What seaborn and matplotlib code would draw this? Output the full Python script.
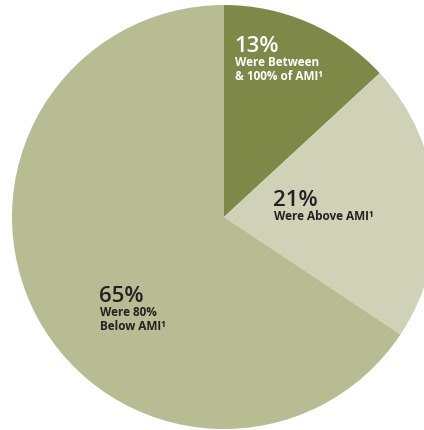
import matplotlib
matplotlib.use("Agg")
import matplotlib.pyplot as plt
import seaborn as sns

shares = [13, 21, 65]
pct_labels = ["13%", "21%", "65%"]
sub_labels = ["Were Between\n& 100% of AMI¹", "Were Above AMI¹", "Were 80%\nBelow AMI¹"]
slice_colors = ["#7f8947", "#d0d2b7", "#b8bc93"]
text_colors = ["white", "#222222", "#222222"]

sns.set_theme(style="white")
plt.rcParams['font.family'] = ['Open Sans', 'DejaVu Sans']

fig = plt.figure(figsize=(4.24, 4.30), dpi=100)
ax = fig.add_axes([0, 0, 1, 1])
ax.pie(shares, colors=slice_colors, startangle=90, counterclock=False,
       radius=212, center=(224, 213), frame=True,
       wedgeprops=dict(linewidth=0))
ax.set_xlim(0, 424)
ax.set_ylim(0, 430)
ax.set_aspect("equal")
ax.axis("off")

# label anchors in pixel space (top-left origin)
spots = [(234, 46), (273, 200), (99, 296)]
for (x, y), pct, sub, tc in zip(spots, pct_labels, sub_labels, text_colors):
    ax.text(x, 430 - y, pct, fontsize=16, fontweight="semibold", color=tc,
            ha="left", va="center")
    ax.text(x + 1, 430 - y - 10, sub, fontsize=8.5, fontweight="bold", color=tc,
            ha="left", va="top", linespacing=1.05)

fig.savefig("out.png", dpi=100, facecolor="white")
